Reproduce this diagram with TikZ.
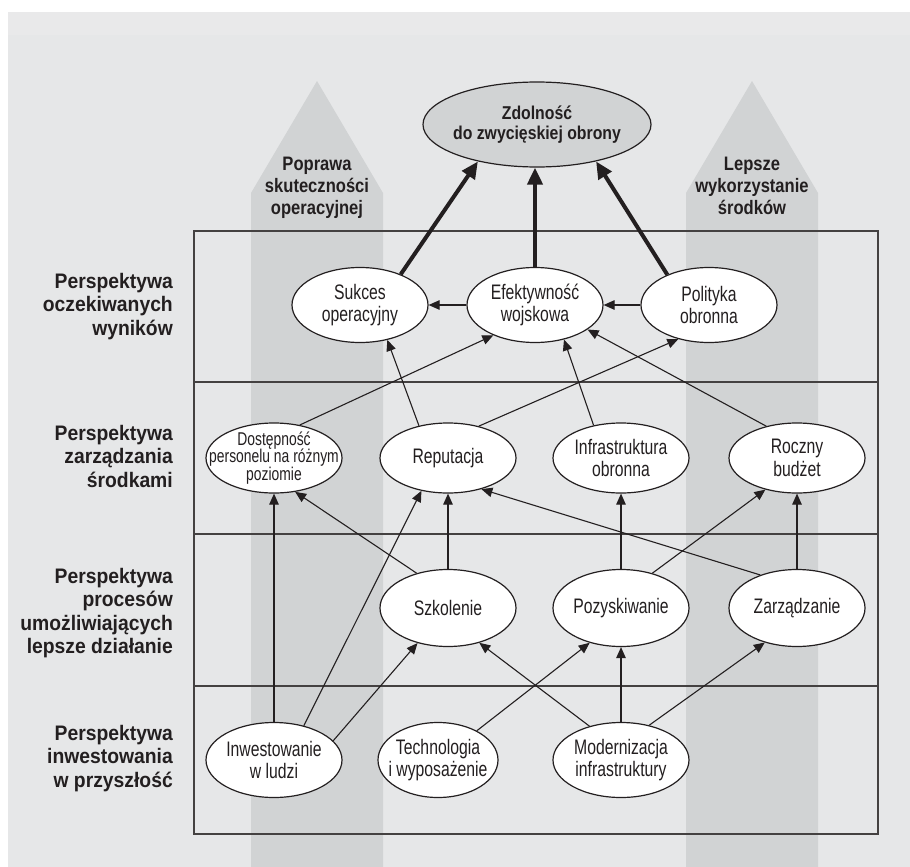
\documentclass[tikz,border=0pt]{standalone}
\usepackage{fontspec}
\setmainfont{Liberation Sans}[FakeStretch=0.75]
\newfontfamily\boldA{Liberation Sans}[FakeStretch=0.92]
\newfontfamily\boldB{Liberation Sans}[FakeStretch=0.85]
\usetikzlibrary{arrows.meta,shapes.geometric}
\definecolor{bggray}{RGB}{230,231,232}
\definecolor{topband}{RGB}{233,233,234}
\definecolor{colgray}{RGB}{209,211,212}
\definecolor{ink}{RGB}{35,31,32}
\begin{document}
\begin{tikzpicture}[x=1pt,y=-1pt,
  frame/.style={draw=ink!85, line width=1.3pt},
  el/.style={ellipse, draw=ink, line width=1.2pt, fill=white, inner sep=0pt,
    minimum width=136pt, minimum height=75pt},
  txt/.style={inner sep=0pt, align=center, text=ink,
    font=\fontsize{21}{22.5}\selectfont},
  smalltxt/.style={inner sep=0pt, align=center, text=ink,
    font=\fontsize{18.5}{17.5}\selectfont},
  toptxt/.style={inner sep=0pt, align=center, text=ink,
    font=\boldB\bfseries\fontsize{18.6}{20}\selectfont},
  ar/.style={draw=ink, line width=1.1pt, -{Triangle[length=11pt,width=9.5pt]}},
  bigar/.style={draw=ink, line width=4pt, -{Triangle[length=17pt,width=15pt]}},
  lab/.style={anchor=north east, inner sep=0pt, align=right, text=ink,
    font=\boldA\bfseries\fontsize{21}{23.5}\selectfont},
  uplab/.style={anchor=north, inner sep=0pt, align=center, text=ink,
    font=\boldB\bfseries\fontsize{19.5}{22}\selectfont}
]
\useasboundingbox (0,0) rectangle (910,867);
\fill[white] (0,0) rectangle (910,867);
\fill[bggray] (8,12) rectangle (910,867);
\fill[topband] (8,12) rectangle (910,35);
% big grey arrows
\fill[colgray] (251,867) -- (251,193) -- (317,81) -- (383,193) -- (383,867) -- cycle;
\fill[colgray] (686,867) -- (686,193) -- (752,81) -- (818,193) -- (818,867) -- cycle;
\node[uplab] (lp) at (317,157) {Poprawa\\skuteczności\\operacyjnej};
\node[uplab] (lw) at (752,157) {Lepsze\\wykorzystanie\\środków};
% frame
\draw[frame] (194,231) rectangle (878,834);
\draw[frame] (194,382) -- (878,382);
\draw[frame] (194,534) -- (878,534);
\draw[frame] (194,686) -- (878,686);
% row labels
\node[lab] (l1) at (173,273) {Perspektywa\\oczekiwanych\\wyników};
\node[lab] (l2) at (173,425) {Perspektywa\\zarządzania\\środkami};
\node[lab] (l3) at (173,568) {Perspektywa\\procesów\\umożliwiających\\lepsze działanie};
\node[lab] (l4) at (173,725) {Perspektywa\\inwestowania\\w przyszłość};
% top ellipse
\node[el, fill=colgray, minimum width=228pt, minimum height=85pt] (top) at (537,124.5) {};
\node[toptxt] (topt) at (top.center) {Zdolność\\do zwycięskiej obrony};
% row 1
\node[el] (suk) at (360,305) {};
\node[el] (efe) at (535,305) {};
\node[el] (pol) at (709,305) {};
\node[txt] (sukt) at (suk.center) {Sukces\\operacyjny};
\node[txt] (efet) at (efe.center) {Efektywność\\wojskowa};
\node[txt] (polt) at (pol.center) {Polityka\\obronna};
% row 2
\node[el, minimum height=70pt] (dos) at (274,458) {};
\node[el, minimum height=70pt] (rep) at (448,458) {};
\node[el, minimum height=70pt] (inf) at (621,458) {};
\node[el, minimum height=70pt] (roc) at (797,458) {};
\node[smalltxt] (dost) at (dos.center) {Dostępność\\personelu na różnym\\poziomie};
\node[txt] (rept) at (rep.center) {Reputacja};
\node[txt] (inft) at (inf.center) {Infrastruktura\\obronna};
\node[txt] (roct) at (roc.center) {Roczny\\budżet};
% row 3
\node[el, minimum height=77pt] (szk) at (448,608) {};
\node[el, minimum height=77pt] (poz) at (621,608) {};
\node[el, minimum height=77pt] (zar) at (797,608) {};
\node[txt] (szkt) at (szk.center) {Szkolenie};
\node[txt] (pozt) at (poz.center) {Pozyskiwanie};
\node[txt] (zart) at (zar.center) {Zarządzanie};
% row 4
\node[el] (inw) at (274,760) {};
\node[el, minimum width=120pt] (tec) at (438,760) {};
\node[el] (mod) at (621,760) {};
\node[txt] (inwt) at (inw.center) {Inwestowanie\\w ludzi};
\node[txt] (tect) at (tec.center) {Technologia\\i wyposażenie};
\node[txt] (modt) at (mod.center) {Modernizacja\\infrastruktury};
% thick arrows
\draw[bigar] (suk.37) -- (top.212);
\draw[bigar] (efe.north) -- (efe.north |- top.south);
\draw[bigar] (pol.144) -- (top.328);
% thin arrows
\draw[ar] (efe.west) -- (suk.east);
\draw[ar] (pol.west) -- (efe.east);
\draw[ar] (dos.52) -- (efe.216);
\draw[ar] (rep.132) -- (suk.308);
\draw[ar] (rep.46) -- (pol.228);
\draw[ar] (inf.130) -- (efe.310);
\draw[ar] (roc.134) -- (efe.335);
\draw[ar] (szk.132) -- (dos.302);
\draw[ar] (szk.north) -- (rep.south);
\draw[ar] (inw.north) -- (dos.south);
\draw[ar] (inw.49) -- (rep.231);
\draw[ar] (poz.north) -- (inf.south);
\draw[ar] (poz.48) -- (roc.225);
\draw[ar] (zar.138) -- (rep.317);
\draw[ar] (zar.north) -- (roc.south);
\draw[ar] (inw.18) -- (szk.229);
\draw[ar] (mod.133) -- (szk.312);
\draw[ar] (tec.37) -- (poz.228);
\draw[ar] (mod.north) -- (poz.south);
\draw[ar] (mod.51) -- (zar.227);
\end{tikzpicture}
\end{document}
